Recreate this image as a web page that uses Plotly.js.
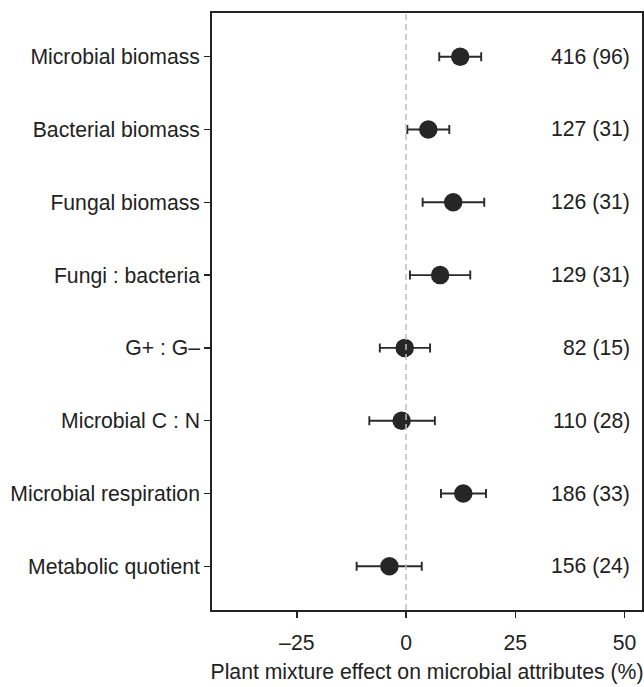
<!DOCTYPE html>
<html>
<head>
<meta charset="utf-8">
<script src="https://cdn.plot.ly/plotly-3.0.1.min.js"></script>
<style>html,body{margin:0;padding:0;background:#fff;}#chart{width:644px;height:687px;}</style>
</head>
<body>
<div id="chart"></div>
<script>
const categories = ["Microbial biomass","Bacterial biomass","Fungal biomass","Fungi : bacteria","G+ : G\u2013","Microbial C : N","Microbial respiration","Metabolic quotient"];
const effect = [12.4, 5.1, 10.8, 7.8, -0.3, -1.0, 13.1, -3.8];
const ciLow = [7.6, 0.3, 3.8, 0.9, -6.0, -8.4, 8.0, -11.3];
const ciHigh = [17.2, 9.9, 17.9, 14.7, 5.5, 6.6, 18.3, 3.6];
const sampleLabels = ["416 (96)","127 (31)","126 (31)","129 (31)","82 (15)","110 (28)","186 (33)","156 (24)"];
const xTickVals = [-25, 0, 25, 50];
const xTickText = ["\u201325", "0", "25", "50"];

const errPlus = effect.map((v,i)=>ciHigh[i]-v);
const errMinus = effect.map((v,i)=>v-ciLow[i]);
const FONT = "Liberation Sans, Arial, sans-serif";
const FS = 21.2;

const trace = {
  type: "scatter", mode: "markers",
  x: effect, y: categories,
  marker: {size: 18.5, color: "#262626"},
  error_x: {type: "data", symmetric: false, array: errPlus, arrayminus: errMinus,
            color: "#2a2a2a", thickness: 1.9, width: 4.5},
  showlegend: false, hoverinfo: "skip"
};

const annotations = categories.map((c,i)=>({
  xref: "paper", yref: "y", x: 0.976, y: c, text: sampleLabels[i],
  xanchor: "right", yanchor: "middle", showarrow: false,
  font: {family: FONT, size: FS, color: "#222"}
}));

const layout = {
  width: 644, height: 687,
  margin: {l: 212, r: 2, t: 13, b: 77},
  paper_bgcolor: "#fff", plot_bgcolor: "#fff",
  font: {family: FONT, size: FS, color: "#222"},
  xaxis: {
    range: [-44.4, 54.0], tickvals: xTickVals, ticktext: xTickText,
    showgrid: false, zeroline: false, showline: true, mirror: true,
    linecolor: "#222", linewidth: 1.8, ticks: "outside", ticklen: 6, tickwidth: 1.5, tickcolor: "#222",
    tickfont: {family: FONT, size: FS, color: "#222"}, ticklabelstandoff: 7,
    title: {text: "Plant mixture effect on microbial attributes (%)", standoff: 11,
            font: {family: FONT, size: FS, color: "#222"}}
  },
  yaxis: {
    type: "category", categoryorder: "array", categoryarray: categories,
    range: [7.6, -0.6], autorange: false,
    showgrid: false, zeroline: false, showline: true, mirror: true,
    linecolor: "#222", linewidth: 1.8, ticks: "outside", ticklen: 6, tickwidth: 1.5, tickcolor: "#222",
    tickfont: {family: FONT, size: FS, color: "#222"}, ticklabelstandoff: 0
  },
  shapes: [{type: "line", xref: "x", yref: "paper", x0: 0, x1: 0, y0: 0, y1: 1,
            line: {color: "#bdbdbd", width: 1.5, dash: "6px,4px"}, layer: "above"}],
  annotations: annotations
};

Plotly.newPlot("chart", [trace], layout, {staticPlot: true, displayModeBar: false});
</script>
</body>
</html>
